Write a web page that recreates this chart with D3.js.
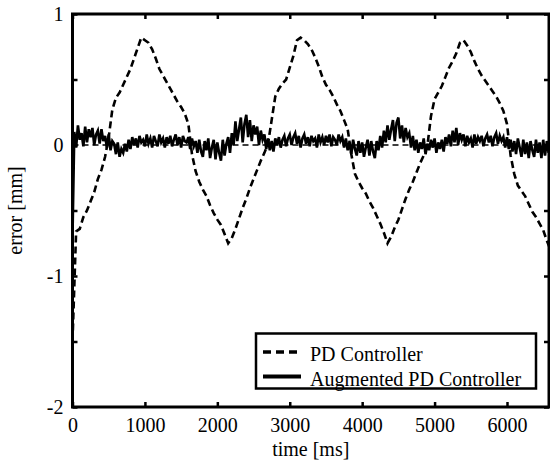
<!DOCTYPE html>
<html lang="en">
<head>
<meta charset="UTF-8">
<title>Tracking error</title>
<script src="https://d3js.org/d3.v7.min.js"></script>
<style>
  body { margin: 0; background: #fff; }
  svg { display: block; }
  svg text { font-family: "Liberation Serif", "Times New Roman", Times, serif !important; }
</style>
</head>
<body>
<svg id="chart" width="550" height="462"></svg>
<script>
// axis ticks
const xTicks = [0, 1000, 2000, 3000, 4000, 5000, 6000];
const yTicks = [1, 0.5, 0, -0.5, -1, -1.5, -2];
const seriesNames = ["PD Controller", "Augmented PD Controller"];

// PD controller error [mm], one sample every 50 ms
const pdStep = 50;
const pdError = [
  -1.50, -0.66, -0.64, -0.55, -0.50, -0.43, -0.36, -0.26, -0.19, -0.09,
   0.06,  0.27,  0.36,  0.40,  0.46,  0.52,  0.58,  0.66,  0.74,  0.82,
   0.80,  0.78,  0.73,  0.66,  0.58,  0.53,  0.48,  0.43,  0.38,  0.33,
   0.29,  0.24,  0.16, -0.07, -0.20, -0.28, -0.34, -0.39, -0.46, -0.52,
  -0.57, -0.61, -0.68, -0.75, -0.71, -0.64, -0.56, -0.48, -0.41, -0.33,
  -0.26, -0.19, -0.12, -0.06,  0.01,  0.19,  0.37,  0.43,  0.47,  0.50,
   0.59,  0.68,  0.80,  0.82,  0.80,  0.77,  0.73,  0.67,  0.60,  0.52,
   0.46,  0.42,  0.37,  0.31,  0.26,  0.19,  0.12, -0.07, -0.22, -0.28,
  -0.33, -0.37, -0.43, -0.48, -0.54, -0.60, -0.67, -0.75, -0.70, -0.63,
  -0.57, -0.49, -0.41, -0.34, -0.28, -0.21, -0.14, -0.08, -0.01,  0.22,
   0.35,  0.40,  0.45,  0.52,  0.59,  0.64,  0.70,  0.78,  0.80,  0.76,
   0.71,  0.64,  0.58,  0.53,  0.49,  0.45,  0.41,  0.37,  0.32,  0.26,
   0.16, -0.08, -0.22, -0.31, -0.35, -0.39, -0.45, -0.51, -0.55, -0.60,
  -0.65, -0.73, -0.80
];

// augmented PD controller error [mm], one sample every 25 ms
const augStep = 25;
const augError = [
  -0.70, 0.10, -0.02, 0.15, 0.04, 0.09, -0.01, 0.14, 0.02, 0.12,
   0.06, 0.13, 0.00, 0.08, 0.11, 0.01, 0.12, 0.03, 0.07, -0.02,
   0.08, -0.04, 0.03, 0.01, -0.07, 0.02, -0.09, -0.03, -0.06, 0.01,
  -0.05, 0.04, -0.03, 0.06, 0.00, 0.05, -0.02, 0.07, 0.02, 0.04,
  -0.01, 0.08, 0.01, 0.05, -0.02, 0.07, 0.03, -0.01, 0.08, 0.02,
   0.05, -0.02, 0.06, 0.01, 0.07, -0.01, 0.04, 0.08, 0.00, 0.06,
  -0.02, 0.07, 0.03, 0.02, 0.06, -0.03, 0.05, -0.01, 0.03, -0.06,
   0.04, -0.05, -0.09, 0.03, -0.04, 0.05, -0.10, -0.02, 0.04, -0.11,
   0.02, -0.06, -0.12, 0.04, -0.08, 0.01, 0.06, -0.06, 0.09, 0.00,
   0.18, 0.03, 0.12, 0.21, 0.02, 0.16, 0.23, 0.06, 0.19, 0.03,
   0.15, 0.08, 0.14, 0.00, 0.11, 0.04, 0.08, -0.03, 0.05, -0.04,
   0.03, -0.05, 0.05, 0.00, 0.06, -0.02, 0.04, 0.07, -0.01, 0.05,
   0.08, 0.00, 0.06, 0.09, 0.01, 0.07, -0.02, 0.05, 0.08, 0.01,
   0.06, -0.01, 0.07, 0.03, 0.05, -0.02, 0.08, 0.02, 0.06, 0.00,
   0.07, 0.02, 0.08, -0.01, 0.06, 0.04, 0.00, 0.08, 0.03, 0.06,
  -0.02, 0.05, -0.04, 0.02, -0.07, 0.04, -0.03, -0.08, 0.03, -0.06,
   0.02, -0.09, -0.02, 0.04, -0.08, 0.03, -0.05, -0.10, 0.03, -0.04,
   0.07, -0.02, 0.11, 0.02, 0.15, 0.04, 0.12, 0.19, 0.03, 0.17,
   0.21, 0.05, 0.15, 0.02, 0.13, 0.06, 0.09, -0.02, 0.07, -0.04,
   0.04, -0.06, 0.02, -0.03, 0.05, -0.07, 0.01, -0.04, 0.04, -0.02,
   0.05, -0.06, 0.02, -0.03, 0.04, -0.05, 0.06, 0.01, 0.08, -0.01,
   0.11, 0.02, 0.13, 0.00, 0.09, 0.04, 0.08, -0.01, 0.07, 0.02,
   0.05, -0.02, 0.08, 0.01, 0.06, 0.03, 0.07, -0.01, 0.05, 0.08,
   0.02, 0.07, -0.01, 0.06, 0.09, 0.01, 0.07, 0.03, 0.06, -0.02,
   0.06, -0.03, 0.04, -0.05, 0.03, -0.07, 0.05, -0.02, -0.09, 0.04,
  -0.07, 0.02, -0.10, 0.03, -0.04, -0.09, 0.04, -0.06, 0.02, -0.10,
   0.04, -0.08, 0.03, -0.06
];

const svg = d3.select("#chart");
const plotLeft = 72.5, plotRight = 549, plotTop = 14, plotBottom = 407;
const serif = '"Liberation Serif", "Times New Roman", Times, serif';

const x = d3.scaleLinear().domain([0, 6580]).range([plotLeft, plotRight]);
const y = d3.scaleLinear().domain([-2, 1]).range([plotBottom, plotTop]);

svg.append("rect").attr("width", 550).attr("height", 462).attr("fill", "#fff");

svg.append("defs").append("clipPath").attr("id", "plot")
  .append("rect")
  .attr("x", plotLeft).attr("y", plotTop)
  .attr("width", plotRight - plotLeft).attr("height", plotBottom - plotTop);

const plot = svg.append("g").attr("clip-path", "url(#plot)");

// zero reference
plot.append("line")
  .attr("x1", plotLeft).attr("x2", plotRight)
  .attr("y1", y(0)).attr("y2", y(0))
  .attr("stroke", "#000").attr("stroke-width", 1.6)
  .attr("stroke-dasharray", "6,4");

const augLine = d3.line().x((d, i) => x(i * augStep)).y(d => y(d));
const pdLine = d3.line().x((d, i) => x(i * pdStep)).y(d => y(d));

plot.append("path")
  .attr("d", augLine(augError))
  .attr("fill", "none").attr("stroke", "#000")
  .attr("stroke-width", 2.6).attr("stroke-linejoin", "miter");

plot.append("path")
  .attr("d", pdLine(pdError))
  .attr("fill", "none").attr("stroke", "#000")
  .attr("stroke-width", 2.6).attr("stroke-dasharray", "7,4");

// axes, ticks pointing inward
const fmtY = d => Number.isInteger(d) ? String(d) : "";
const axes = [
  { axis: d3.axisBottom(x).tickValues(xTicks).tickFormat(d => String(d)).tickPadding(11), t: `translate(0,${plotBottom})` },
  { axis: d3.axisTop(x).tickValues(xTicks).tickFormat(""), t: `translate(0,${plotTop})` },
  { axis: d3.axisLeft(y).tickValues(yTicks).tickFormat(fmtY).tickPadding(9), t: `translate(${plotLeft},0)` },
  { axis: d3.axisRight(y).tickValues(yTicks).tickFormat(""), t: `translate(${plotRight},0)` }
];
axes.forEach(a => {
  const g = svg.append("g").attr("transform", a.t)
    .call(a.axis.tickSizeInner(-5).tickSizeOuter(0))
    .attr("font-family", serif).attr("font-size", 20);
  g.select(".domain").remove();
  g.selectAll(".tick line").attr("stroke", "#000").attr("stroke-width", 2.5);
  g.selectAll(".tick text").attr("fill", "#000");
});

svg.append("rect")
  .attr("x", plotLeft).attr("y", plotTop)
  .attr("width", plotRight - plotLeft).attr("height", plotBottom - plotTop)
  .attr("fill", "none").attr("stroke", "#000").attr("stroke-width", 3);

svg.append("text")
  .attr("x", (plotLeft + plotRight) / 2).attr("y", 456)
  .attr("text-anchor", "middle")
  .attr("font-family", serif).attr("font-size", 20)
  .text("time [ms]");

svg.append("text")
  .attr("transform", `translate(22,${(plotTop + plotBottom) / 2}) rotate(-90)`)
  .attr("text-anchor", "middle")
  .attr("font-family", serif).attr("font-size", 20)
  .text("error [mm]");

// legend
const legend = svg.append("g");
legend.append("rect")
  .attr("x", 256).attr("y", 333.5).attr("width", 280).attr("height", 55)
  .attr("fill", "#fff").attr("stroke", "#000").attr("stroke-width", 2.5);

const rows = legend.selectAll("g.row").data(seriesNames).enter()
  .append("g").attr("class", "row")
  .attr("transform", (d, i) => `translate(0,${352 + i * 24.5})`);
rows.append("line")
  .attr("x1", 263).attr("x2", 301)
  .attr("stroke", "#000")
  .attr("stroke-width", (d, i) => i === 0 ? 3.5 : 4)
  .attr("stroke-dasharray", (d, i) => i === 0 ? "8,5" : null);
rows.append("text")
  .attr("x", 310).attr("y", 5).attr("dy", "0.2em")
  .attr("font-family", serif).attr("font-size", 20)
  .text(d => d);
</script>
</body>
</html>
